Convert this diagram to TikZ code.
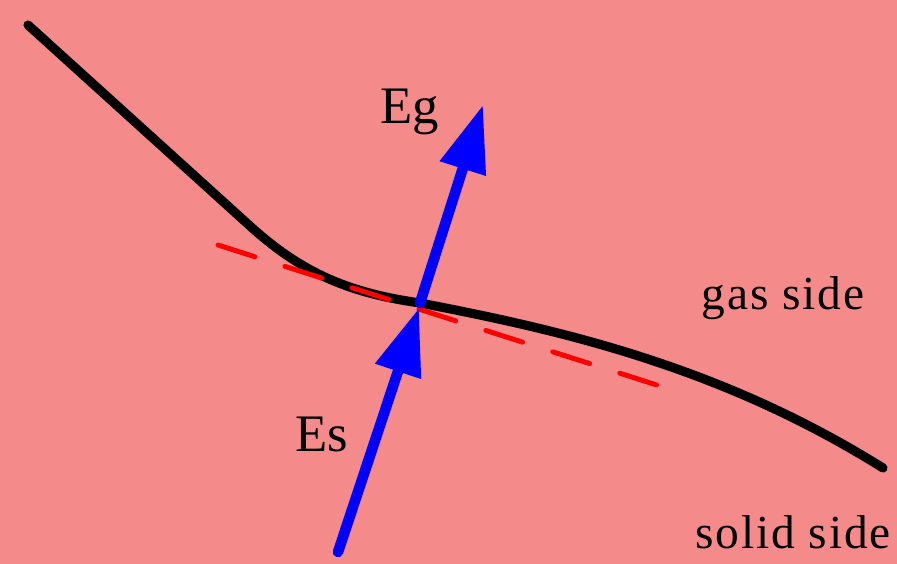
\documentclass[tikz,border=0pt]{standalone}
\usepackage{fontspec}
\setmainfont{Liberation Serif}
\usetikzlibrary{arrows.meta}
\definecolor{bgpink}{RGB}{244,138,138}
\begin{document}
\begin{tikzpicture}[x=0.02cm, y=-0.02cm, every node/.style={font=\fontsize{30}{32}\selectfont}]
  \tikzstyle{iface}=[line width=5.2pt, line cap=round, line join=round, black]
  \tikzstyle{tang}=[line width=2.8pt, line cap=round, red, dash pattern=on 22pt off 18pt]
  \tikzstyle{field}=[line width=6pt, line cap=round, blue, -{Triangle[length=38pt, width=26pt]}]
  \tikzstyle{side}=[font=\fontsize{27}{29}\selectfont\addfontfeature{LetterSpace=4}]
  \fill[bgpink] (0, 0) rectangle (897, 564);
  \coordinate (p)  at (420, 303);
  \coordinate (s0) at (338, 552);
  \coordinate (s1) at (419, 308);
  \coordinate (g1) at (483, 105);
  \coordinate (t0) at (218, 245);
  \coordinate (t1) at (663, 387);
  \coordinate (c0) at (28, 25);
  \coordinate (c1) at (250, 226);
  \coordinate (c2) at (883, 468);
  \draw[iface] (c0) -- (c1) .. controls (303, 274) and (350, 293) .. (p)
    .. controls (560, 330) and (720, 366) .. (c2);
  \draw[tang] (t0) -- (t1);
  \draw[field] (s0) -- (s1);
  \draw[field] (p) -- (g1);
  \node (eg) at (410, 112) {Eg};
  \node (es) at (322, 435) {Es};
  \node[side] (gas)   at (783, 298) {gas side};
  \node[side] (solid) at (793, 532) {solid side};
\end{tikzpicture}
\end{document}
